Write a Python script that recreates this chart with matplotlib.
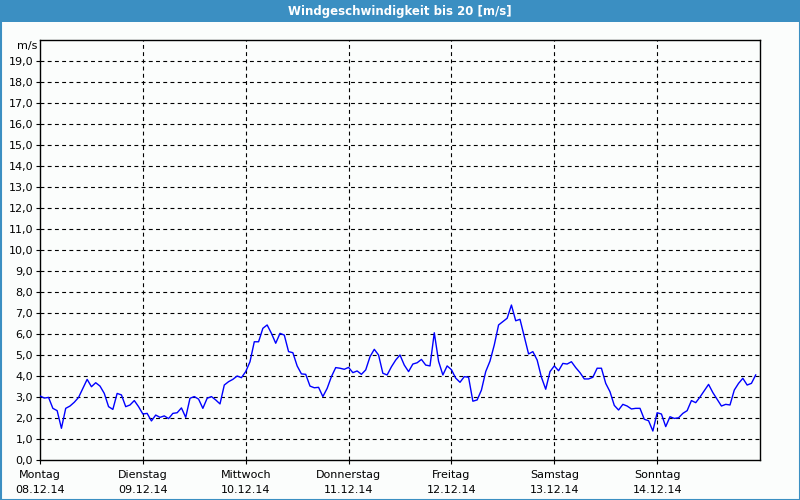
import matplotlib
matplotlib.use("Agg")
import matplotlib.pyplot as plt
from matplotlib.patches import Rectangle
from matplotlib.ticker import FixedLocator, FuncFormatter

title = "Windgeschwindigkeit bis 20 [m/s]"
unit = "m/s"
day_names = ["Montag", "Dienstag", "Mittwoch", "Donnerstag", "Freitag", "Samstag", "Sonntag"]
day_dates = ["08.12.14", "09.12.14", "10.12.14", "11.12.14", "12.12.14", "13.12.14", "14.12.14"]

# hourly wind speed (m/s), starting Monday 00:00
wind = [
    3.05, 2.95, 2.98, 2.46, 2.35, 1.51, 2.46, 2.57, 2.75, 2.98, 3.41, 3.84,
    3.49, 3.68, 3.52, 3.17, 2.54, 2.41, 3.17, 3.10, 2.54, 2.62, 2.83, 2.54,
    2.19, 2.22, 1.86, 2.14, 2.03, 2.10, 1.97, 2.22, 2.25, 2.48, 2.03, 2.94,
    3.02, 2.90, 2.46, 2.94, 3.02, 2.86, 2.67, 3.57, 3.73, 3.84, 4.00, 3.92,
    4.21, 4.68, 5.63, 5.63, 6.27, 6.43, 6.03, 5.56, 6.03, 5.95, 5.16, 5.11,
    4.48, 4.10, 4.08, 3.52, 3.44, 3.46, 3.02, 3.41, 3.97, 4.40, 4.37, 4.32,
    4.41, 4.16, 4.24, 4.08, 4.29, 4.92, 5.27, 5.00, 4.13, 4.05, 4.44, 4.76,
    5.00, 4.52, 4.21, 4.57, 4.63, 4.79, 4.52, 4.48, 6.06, 4.70, 4.05, 4.48,
    4.30, 3.90, 3.70, 3.97, 3.94, 2.80, 2.86, 3.33, 4.21, 4.71, 5.48, 6.43,
    6.59, 6.75, 7.38, 6.63, 6.70, 5.87, 5.05, 5.16, 4.76, 3.94, 3.37, 4.21,
    4.48, 4.25, 4.60, 4.57, 4.68, 4.40, 4.16, 3.86, 3.86, 3.94, 4.37, 4.37,
    3.65, 3.25, 2.60, 2.38, 2.65, 2.57, 2.43, 2.46, 2.46, 1.94, 1.87, 1.38,
    2.25, 2.19, 1.59, 2.06, 1.98, 2.01, 2.22, 2.35, 2.83, 2.73, 3.00, 3.30,
    3.60, 3.21, 2.89, 2.57, 2.65, 2.62, 3.33, 3.65, 3.89, 3.57, 3.65, 4.05,
]
hours = list(range(len(wind)))
y_ticks = list(range(0, 20))

bg = "#fbfdfc"
blue = "#3b8fc2"

fig = plt.figure(figsize=(8, 5), dpi=100, facecolor=bg)
# header banner
fig.patches.append(Rectangle((0, 1 - 22 / 500), 1, 22 / 500, transform=fig.transFigure,
                             facecolor=blue, edgecolor="none", zorder=0))
# outer border
fig.patches.append(Rectangle((0.5 / 800, 0.5 / 500), 1 - 1 / 800, 1 - 1 / 500,
                             transform=fig.transFigure, facecolor="none",
                             edgecolor=blue, linewidth=1.5, zorder=5))
fig.text(0.5, 1 - 11 / 500, title, ha="center", va="center", color="white",
         fontsize=8.5, fontweight="bold")

ax = fig.add_axes([40 / 800, 40 / 500, 720 / 800, 420 / 500])
ax.set_facecolor(bg)
ax.plot(hours, wind, color="#0000ff", linewidth=1.0, zorder=3)

ax.set_xlim(0, 168)
ax.set_ylim(0, 20)
ax.yaxis.set_major_locator(FixedLocator(y_ticks))
ax.yaxis.set_major_formatter(FuncFormatter(lambda v, p: f"{v:.1f}".replace(".", ",")))
ax.set_xticks([24 * i for i in range(len(day_names))])
ax.set_xticklabels([f"{n}\n{d}" for n, d in zip(day_names, day_dates)],
                   fontsize=8, linespacing=1.6)
ax.tick_params(axis="y", labelsize=8, length=3, pad=2)
ax.tick_params(axis="x", length=3, pad=4)

for v in range(1, 20):
    ax.axhline(v, color="black", linewidth=0.8, linestyle=(0, (3.5, 3)), zorder=1)
for i in range(1, len(day_names)):
    ax.axvline(24 * i, color="black", linewidth=0.8, linestyle=(0, (3.5, 3)), zorder=1)

for s in ax.spines.values():
    s.set_color("black")
    s.set_linewidth(1.0)

ax.text(-0.004, 0.985, unit, transform=ax.transAxes, ha="right", va="center", fontsize=8)

fig.savefig("out.png", dpi=100, facecolor=bg)
